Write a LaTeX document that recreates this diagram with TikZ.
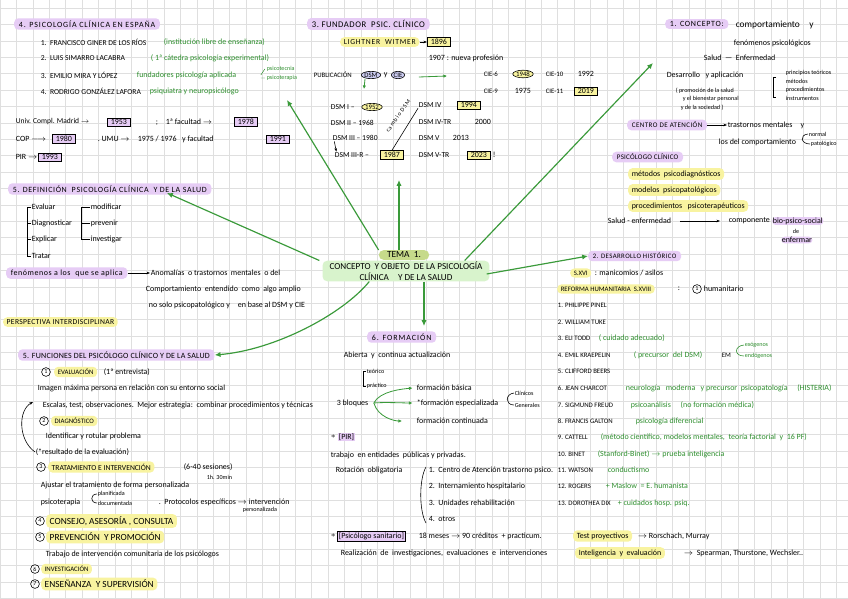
\documentclass[tikz,border=0pt]{standalone}
\usepackage{fontspec}
\setmainfont{Carlito}
\usetikzlibrary{positioning, arrows.meta, shapes.geometric, calc}

\definecolor{lilac}{HTML}{E6CCF5}
\definecolor{lemon}{HTML}{F8F3A0}
\definecolor{mint}{HTML}{D8F3CC}
\definecolor{olive}{HTML}{C6DA8A}
\definecolor{bluelilac}{HTML}{CBCBF0}
\definecolor{inkgreen}{HTML}{2F8F2F}
\definecolor{arrowgreen}{HTML}{3A9A3A}
\definecolor{gridgray}{HTML}{DFDFDF}

\newcommand\handlc{\fontsize{6.8}{8}\selectfont}
\newcommand\handuc{\fontsize{6.5}{7.6}\selectfont}
\newcommand\handus{\fontsize{5.8}{7}\selectfont}
\newcommand\handsm{\fontsize{5.2}{6}\selectfont}
\newcommand\handbig{\fontsize{8}{9.2}\selectfont}
\newcommand\handtitle[2]{\fontsize{#1}{#1}\selectfont\addfontfeature{LetterSpace=#2}}

\begin{document}
\begin{tikzpicture}[
    x=0.3mm, y=-0.3mm,
    base/.style={anchor=west, inner sep=0.5pt, font=\handlc},
    up/.style={font=\handuc},
    ups/.style={font=\handus},
    sm/.style={font=\handsm},
    big/.style={font=\handbig},
    ink/.style={text=inkgreen},
    hlp/.style={base, fill=lilac, rounded corners=3.5pt, inner xsep=4pt, inner ysep=2pt},
    hly/.style={base, fill=lemon, rounded corners=3.5pt, inner xsep=3pt, inner ysep=2pt},
    yearbox/.style={base, draw, line width=0.5pt, inner xsep=3pt, inner ysep=1.3pt},
    ell/.style={ellipse, draw, line width=0.5pt, inner sep=0.3pt, font=\handus},
    num/.style={circle, draw, line width=0.5pt, inner sep=0pt, minimum size=7.5pt, font=\handsm},
    garr/.style={draw=arrowgreen, line width=1pt, -{Latex[length=5pt, width=4.5pt]}},
    gsmall/.style={draw=arrowgreen, line width=0.7pt, -{Latex[length=3pt, width=3pt]}},
    blk/.style={line width=0.5pt, -{Stealth[length=3pt]}},
    gridline/.style={draw=gridgray, line width=0.4pt}
]
\useasboundingbox (0,0) rectangle (848,599);
\fill[white] (0,0) rectangle (848,599);
\foreach \i in {0,...,52}{\draw[gridline] ({\i*16.4},0) -- ({\i*16.4},599);}
\foreach \j in {0,...,37}{\draw[gridline] (0,{\j*16.4+8}) -- (848,{\j*16.4+8});}

% centro
\node[fill=mint, rounded corners=4pt, align=center, font=\fontsize{7.8}{9}\selectfont, inner xsep=6pt, inner ysep=1pt] (main) at (406,271) {CONCEPTO\ \ Y OBJETO\ \ DE LA PSICOLOGÍA\\CLÍNICA\quad Y DE LA SALUD};
\node[fill=olive, rounded corners=4pt, font=\handbig, inner xsep=7pt, inner ysep=1.5pt] (tema) at (404,255) {TEMA\ \ 1.};

% 4. psicologia clinica en espana
\node[hlp, font=\handtitle{6.8}{11}] (spain) at (14,24) {4. PSICOLOGÍA CLÍNICA EN ESPAÑA};
\node[base, up] (sp1) at (40,42) {1.\ \ FRANCISCO GINER DE LOS RÍOS};
\node[base, ink] (sp1n) at (163,42) {(institución libre de enseñanza)};
\node[base, up] (sp2) at (40,58) {2.\ \ LUIS SIMARRO LACABRA};
\node[base, ink] (sp2n) at (150,58) {( 1ª cátedra psicología experimental)};
\node[base, up] (sp3) at (40,75) {3.\ \ EMILIO MIRA Y LÓPEZ};
\node[base, ink] (sp3n) at (136,75) {fundadores psicología aplicada};
\node[base, ink, sm] (tecn) at (266,69) {psicotecnia};
\node[base, ink, sm] (terap) at (266,78) {psicoterapia};
\draw[inkgreen, line width=0.4pt] ([xshift=-1pt]terap.west) -- ++(-4,0) ([xshift=-1pt]tecn.west) -- ++(-4,6);
\node[base, up] (sp4) at (40,91) {4.\ \ RODRIGO GONZÁLEZ LAFORA};
\node[base, ink] (sp4n) at (149,91) {psiquiatra y neuropsicólogo};

\node[base, font=\fontsize{6.4}{7.6}\selectfont] (madrid) at (15,122) {Univ. Compl. Madrid $\rightarrow$};
\node[yearbox, fill=lilac] (y53) at (107,122) {1953};
\node[base] (fac1) at (155,122) {;\quad 1ª facultad $\rightarrow$};
\node[yearbox, fill=lilac] (y78) at (234,122) {1978};
\node[base] (cop) at (15,139) {COP $\longrightarrow$};
\node[yearbox, fill=lilac] (y80) at (52,139) {1980};
\node[base] (umu) at (97,139) {.\ UMU $\rightarrow$\quad 1975 / 1976\ \ \ y facultad};
\node[yearbox, fill=lilac] (y91) at (266,139) {1991};
\node[base] (pir) at (15,157) {PIR $\rightarrow$};
\node[yearbox, fill=lilac] (y93) at (38,157) {1993};

% definicion
\node[hlp, font=\handtitle{6.8}{8}] (def) at (8,189) {5. DEFINICIÓN\ \ PSICOLOGÍA CLÍNICA\ \ Y DE LA SALUD};
\node[base] (ev) at (31,207) {Evaluar};
\node[base] (dg) at (31,223) {Diagnosticar};
\node[base] (ex) at (31,239) {Explicar};
\node[base] (tr) at (31,256) {Tratar};
\draw[line width=0.5pt] (ev.west) -- ++(-4,0) |- (tr.west) (dg.west) -- ++(-4,0) (ex.west) -- ++(-4,0);
\node[base] (mo) at (90,207) {modificar};
\node[base] (pv) at (90,223) {prevenir};
\node[base] (iv) at (90,239) {investigar};
\draw[line width=0.5pt] (mo.west) -- ++(-9,0) |- (iv.west) (pv.west) -- ++(-9,0);

\node[hlp, font=\handtitle{6.8}{7}] (fen) at (6,273) {fenómenos a los\ \ que se aplica};
\node[base] (anom) at (150,273) {Anomalías\ \ o trastornos\ \ mentales\ \ o del};
\draw[blk] (fen.east) -- (anom.west);
\node[base] (anom2) at (145,289) {Comportamiento\ \ entendido\ \ como\ \ algo amplio};
\node[base] (anom3) at (148,305) {no solo psicopatológico y\quad en base al DSM y CIE};
\node[hly, font=\handtitle{6.5}{4}] (persp) at (3,322) {PERSPECTIVA INTERDISCIPLINAR};

% 5. funciones
\node[hlp, font=\handtitle{6.8}{3}] (fun) at (18,355) {5. FUNCIONES DEL PSICÓLOGO CLÍNICO Y DE LA SALUD};
\node[num] (n1) at (46,372) {1};
\node[hly, ups] (f1) at (54,372) {EVALUACIÓN};
\node[base] (f1b) at (103,372) {(1ª entrevista)};
\node[base] (f1c) at (37,388) {Imagen máxima persona en relación con su entorno social};
\node[base] (f1d) at (42,405) {Escalas, test, observaciones.\ \ Mejor estrategia:\ \ combinar procedimientos y técnicas};
\node[num] (n2) at (44,421) {2};
\node[hly, ups] (f2) at (51,421) {DIAGNÓSTICO};
\node[base] (f2b) at (45,436) {Identificar y rotular problema};
\node[base] (f2c) at (35,452) {(*resultado de la evaluación)};
\draw[blk] (f2c.west) .. controls (18,440) and (18,410) .. ($(f1d.west)+(-9,-3)$);
\node[num] (n3) at (41,467) {3};
\node[hly, up] (f3) at (48,467) {TRATAMIENTO E INTERVENCIÓN};
\node[base] (f3b) at (183,467) {(6-40 sesiones)};
\node[base, sm] (f3c) at (206,477) {1h. 30min};
\node[base] (f3d) at (40,485) {Ajustar el tratamiento de forma personalizada};
\node[base] (f3e) at (40,502) {psicoterapia};
\node[base, sm] (plan) at (97,494) {planificada};
\node[base, sm] (docu) at (97,503) {documentada};
\draw[line width=0.5pt] (plan.west) .. controls +(-7,0) and +(-7,0) .. (docu.west);
\node[base] (f3f) at (158,502) {.\ \ Protocolos específicos $\rightarrow$ intervención};
\node[base, sm] (f3g) at (242,510) {personalizada};
\node[num] (n4) at (40,521) {4};
\node[hly, big] (f4) at (46,521) {CONSEJO, ASESORÍA\ ,\ CONSULTA};
\node[num] (n5) at (40,537) {5};
\node[hly, big] (f5) at (46,537) {PREVENCIÓN\ \ Y PROMOCIÓN};
\node[base] (f5b) at (45,554) {Trabajo de intervención comunitaria de los psicólogos};
\node[num] (n6) at (35,569) {6};
\node[hly, ups] (f6) at (41,569) {INVESTIGACIÓN};
\node[num] (n7) at (35,584) {7};
\node[hly, big] (f7) at (41,584) {ENSEÑANZA\ \ Y SUPERVISIÓN};

% 3. fundador
\node[hlp, font=\handtitle{7.4}{6}] (s3t) at (307,24) {3.\ FUNDADOR\ \ PSIC. CLÍNICO};
\node[hly, font=\handtitle{6.5}{10}] (witmer) at (340,42) {LIGHTNER\ \ WITMER};
\node[yearbox, fill=lemon] (y96) at (427,42) {1896};
\draw[blk] (witmer.east) -- (y96.west);
\node[base] (prof) at (428,58) {1907 : nueva profesión};
\node[base, ups] (pub) at (313,75) {PUBLICACIÓN};
\node[ell, fill=bluelilac] (dsm) at (371,75) {DSM};
\node[base] (yy) at (383,75) {y};
\node[ell, fill=bluelilac] (cie) at (398,75) {CIE};
\node[base, ups] (cie6) at (483,74) {CIE-6};
\node[ell, fill=lemon] (y48) at (523,74) {1948};
\node[base, ups] (cie10) at (545,74) {CIE-10};
\node[base] (y92) at (577,74) {1992};
\node[base, ups] (cie9) at (483,91) {CIE-9};
\node[base] (y75) at (514,91) {1975};
\node[base, ups] (cie11) at (545,91) {CIE-11};
\node[yearbox, fill=lemon] (y19) at (574,91) {2019};
\draw[gsmall] ($(cie.east)+(14,2)$) -- ($(cie6.west)+(-36,2)$);
\draw[gsmall] ($(dsm.south)+(-6,0)$) -- ++(-1,10);

\node[base, up] (d1) at (330,107) {DSM I –};
\node[ell, fill=lemon] (y52) at (372,107) {1952};
\node[base, up] (d2) at (330,123) {DSM II – 1968};
\node[base, up] (d3) at (332,138) {DSM III – 1980};
\node[base, up] (d3r) at (334,155) {DSM III-R –};
\node[yearbox, fill=lemon] (y87) at (380,155) {1987};
\draw[blk] ([xshift=2pt]d3.south west) -- ([xshift=2pt]d3r.north west);
\node[base, up] (d4) at (418,105) {DSM IV};
\node[yearbox, fill=lemon] (y94) at (457,105) {1994};
\node[base, up] (d4tr) at (418,122) {DSM IV-TR};
\node[base] (y00) at (474,122) {2000};
\node[base, up] (d5) at (418,138) {DSM V};
\node[base] (y13) at (452,138) {2013};
\node[base, up] (d5tr) at (418,155) {DSM V-TR};
\node[yearbox, fill=lemon] (y23) at (467,155) {2023};
\node[base] (excl) at (492,155) {!};
\draw[line width=0.5pt] (y87.north) -- (d4.south west);
\node[rotate=55, inner sep=0.3pt, font=\handtitle{5}{18}] (cambio) at (398,116) {cambio DSM};

% 1. concepto
\node[hlp, font=\handtitle{6.8}{9}] (conc) at (665,24) {1. CONCEPTO:};
\node[base, big] (conc1) at (735,25) {comportamiento\quad y};
\node[base] (conc2) at (733,43) {fenómenos psicológicos};
\node[base] (salud) at (703,58) {Salud\ \ —\ \ Enfermedad};
\node[base] (desa) at (666,75) {Desarrollo\ \ \ y aplicación};
\node[base, sm] (pr1) at (785,73) {principios teóricos};
\node[base, sm] (pr2) at (785,81) {métodos};
\node[base, sm] (pr3) at (785,90) {procedimientos};
\node[base, sm] (pr4) at (785,98) {instrumentos};
\draw[line width=0.5pt] ($(pr1.west)+(-9,4)$) -- ++(-3,0) -- ++(0,20) -- ++(3,0);
\node[base, sm] (prom1) at (675,91) {( promoción de la salud};
\node[base, sm] (prom2) at (682,99) {y el bienestar personal};
\node[base, sm] (prom3) at (680,108) {y de la sociedad )};
\node[hlp, font=\handtitle{6}{6}] (cat) at (627,125) {CENTRO DE ATENCIÓN};
\node[base] (trast) at (727,125) {trastornos mentales\quad y};
\draw[blk] (cat.east) -- (trast.west);
\node[base] (trast2) at (718,142) {los del comportamiento};
\node[base, sm] (norm) at (808,134) {normal};
\node[base, sm] (pato) at (810,144) {patológico};
\draw[line width=0.5pt] (norm.west) .. controls +(-9,1) and +(-9,0) .. (pato.west);

% psicologo clinico
\node[hlp, font=\handtitle{6}{3}] (pc) at (612,157) {PSICÓLOGO CLÍNICO};
\node[hly] (pc1) at (628,174) {métodos\ \ psicodiagnósticos};
\node[hly] (pc2) at (628,190) {modelos\ \ psicopatológicos};
\node[hly] (pc3) at (628,206) {procedimientos\ \ \ psicoterapéuticos};
\node[base] (pc4) at (607,221) {Salud - enfermedad};
\node[base] (pc5) at (728,221) {componente};
\draw[blk] ($(pc4.east)+(8,0)$) -- ($(pc5.west)+(-8,0)$);
\node[base, fill=lilac, rounded corners=3pt] (pc6) at (772,221) {bio-psico-social};
\node[base, sm] (pc7) at (792,231) {de};
\node[base, fill=lilac, rounded corners=3pt] (pc8) at (781,240) {enfermar};

% 2. desarrollo historico
\node[hlp, font=\handtitle{5.8}{6}] (hist) at (588,256) {2. DESARROLLO HISTÓRICO};
\node[hly, ups] (s16) at (570,273) {S.XVI};
\node[base] (s16b) at (594,273) {: manicomios / asilos};
\node[hly, ups] (refh) at (557,289) {REFORMA HUMANITARIA\ \ S.XVIII};
\node[base] (refh2) at (677,289) {:};
\node[num] (n0) at (697,289) {1};
\node[base] (refh3) at (703,289) {humanitario};
\node[base, ups] (h1) at (557,305) {1. PHILIPPE PINEL};
\node[base, ups] (h2) at (557,322) {2. WILLIAM TUKE};
\node[base, ups] (h3) at (557,338) {3. ELI TODD};
\node[base, ink] (h3n) at (598,338) {( cuidado adecuado)};
\node[base, ups] (h4) at (557,355) {4. EMIL KRAEPELIN};
\node[base, ink] (h4n) at (633,355) {( precursor\ \ del DSM)};
\node[base, ups] (h4e) at (721,355) {EM};
\node[base, ink, sm] (exo) at (744,345) {exógenos};
\node[base, ink, sm] (endo) at (744,356) {endógenos};
\draw[inkgreen, line width=0.5pt] (exo.west) .. controls +(-10,1) and +(-10,0) .. (endo.west);
\node[base, ups] (h5) at (557,371) {5. CLIFFORD BEERS};
\node[base, ups] (h6) at (557,388) {6. JEAN CHARCOT};
\node[base, ink] (h6n) at (625,388) {neurología\ \ \ moderna\ \ \ y precursor\ \ psicopatología\quad\ (HISTERIA)};
\node[base, ups] (h7) at (557,405) {7. SIGMUND FREUD};
\node[base, ink] (h7n) at (630,405) {psicoanálisis\quad\ (no formación médica)};
\node[base, ups] (h8) at (557,421) {8. FRANCIS GALTON};
\node[base, ink] (h8n) at (635,421) {psicología diferencial};
\node[base, ups] (h9) at (557,437) {9. CATTELL};
\node[base, ink] (h9n) at (600,437) {(método científico, modelos mentales,\ \ teoría factorial\ \ y\ \ 16 PF)};
\node[base, ups] (h10) at (557,454) {10. BINET};
\node[base, ink] (h10n) at (597,454) {(Stanford-Binet) $\rightarrow$ prueba inteligencia};
\node[base, ups] (h11) at (557,470) {11. WATSON};
\node[base, ink] (h11n) at (607,470) {conductismo};
\node[base, ups] (h12) at (557,486) {12. ROGERS};
\node[base, ink] (h12n) at (605,486) {+ Maslow\ \ = E. humanista};
\node[base, ups] (h13) at (557,503) {13. DOROTHEA DIX};
\node[base, ink] (h13n) at (617,503) {+ cuidados hosp. psiq.};
\node[hly] (tp) at (573,536) {Test proyectivos};
\node[base] (tp2) at (637,536) {$\rightarrow$ Rorschach, Murray};
\node[hly] (iq) at (575,553) {Inteligencia\ \ y\ \ evaluación};
\node[base] (iq2) at (683,553) {$\rightarrow$\ \ Spearman, Thurstone, Wechsler..};

% 6. formacion
\node[hlp, font=\handtitle{6.8}{12}] (form) at (367,337) {6. FORMACIÓN};
\node[base] (form1) at (343,355) {Abierta\ \ y\ \ continua actualización};
\node[base, sm] (teo) at (366,371) {teórico};
\node[base, sm] (pra) at (366,386) {práctico};
\draw[line width=0.5pt] (teo.west) -- ++(-3,0) |- (pra.west);
\node[base] (bloq) at (336,403) {3 bloques};
\node[base] (fb) at (416,388) {formación básica};
\node[base] (fe) at (416,403) {*formación especializada};
\node[base] (fc) at (416,421) {formación continuada};
\draw[gsmall] ([xshift=4pt]bloq.east) .. controls +(6,-12) and +(-10,1) .. ([xshift=-3pt]fb.west);
\draw[gsmall] ([xshift=4pt]bloq.east) .. controls +(10,-1) and +(-8,0) .. ([xshift=-3pt]fe.west);
\draw[gsmall] ([xshift=4pt]bloq.east) .. controls +(4,14) and +(-8,0) .. ([xshift=-12pt]fc.west);
\node[base, sm] (cli) at (514,393) {Clínicos};
\node[base, sm] (gen) at (514,405) {Generales};
\draw[line width=0.5pt] (cli.west) .. controls +(-9,1) and +(-9,0) .. (gen.west);
\node[base] (ast1) at (330,437) {$*$};
\node[base, fill=lilac] (pirb) at (338,437) {[PIR]};
\node[base] (ent) at (330,455) {trabajo\ \ en entidades\ \ públicas y privadas.};
\node[base] (rot) at (335,470) {Rotación\ \ obligatoria};
\node[base] (r1) at (428,470) {1.\ \ Centro de Atención trastorno psico.};
\node[base] (r2) at (428,486) {2.\ \ Internamiento hospitalario};
\node[base] (r3) at (428,503) {3.\ \ Unidades rehabilitación};
\node[base] (r4) at (428,519) {4.\ \ otros};
\draw[line width=0.5pt] ($(r1.west)+(-2,-3)$) .. controls +(-7,12) and +(-7,-12) .. ($(r4.west)+(-2,4)$);
\node[base] (ast2) at (330,536) {$*$};
\node[base, fill=lilac, draw, line width=0.5pt, inner sep=1.3pt] (psan) at (337,536) {[Psicólogo sanitario]};
\node[base] (psan2) at (418,536) {18 meses $\rightarrow$ 90\ créditos\ \ + practicum.};
\node[base] (psan3) at (340,553) {Realización\ \ de\ \ investigaciones,\ \ evaluaciones\ \ e\ \ intervenciones};

% flechas del mapa
\coordinate (a1) at (287,100);
\coordinate (a2) at (167,193);
\coordinate (a4) at (399,180);
\coordinate (a5) at (653,63);
\coordinate (a7) at (424,326);
\draw[garr] (tema.north west) -- (a1);
\draw[garr] ($(main.north west)+(-3,0)$) -- (a2);
\draw[garr] ($(main.south west)+(47,0)$) .. controls +(-27,33) and +(60,-5) .. (fun.east);
\draw[garr] (tema.north -| a4) -- (a4);
\draw[garr] ($(main.north east)+(-25,0)$) -- (a5);
\draw[garr] ($(main.east)+(-3,3)$) -- (hist.west);
\draw[garr] (main.south -| a7) -- (a7);
\end{tikzpicture}
\end{document}
